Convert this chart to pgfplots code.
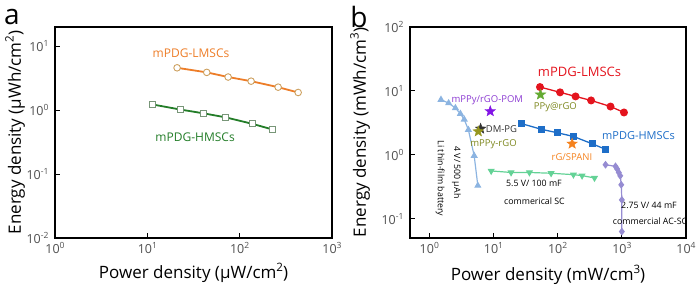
\documentclass[border=0pt]{standalone}
\usepackage{fontspec}
\setmainfont{Open Sans}
\usepackage{graphicx}
\usepackage{pgfplots}
\pgfplotsset{compat=1.18}
\usetikzlibrary{plotmarks}
\newcommand\tsup[1]{\raisebox{0.42em}{\scalebox{0.68}{#1}}}
\definecolor{orA}{RGB}{237,125,40}
\definecolor{orAe}{RGB}{205,160,95}
\definecolor{grA}{RGB}{35,125,40}
\definecolor{grAe}{RGB}{120,150,120}
\definecolor{redB}{RGB}{228,20,30}
\definecolor{bluB}{RGB}{30,110,200}
\definecolor{ltbl}{RGB}{140,180,225}
\definecolor{mint}{RGB}{100,210,150}
\definecolor{lav}{RGB}{150,140,210}
\definecolor{purS}{RGB}{130,20,230}
\definecolor{purT}{RGB}{140,60,210}
\definecolor{grS}{RGB}{100,170,50}
\definecolor{olT}{RGB}{125,135,30}
\definecolor{olS}{RGB}{150,150,30}
\definecolor{drk}{RGB}{50,50,50}
\definecolor{orS}{RGB}{245,130,30}
\definecolor{tickc}{RGB}{80,80,80}
\pgfdeclareplotmark{fstar}{%
  \pgfpathmoveto{\pgfpointpolar{90}{\pgfplotmarksize}}%
  \pgfpathlineto{\pgfpointpolar{126}{0.42\pgfplotmarksize}}%
  \pgfpathlineto{\pgfpointpolar{162}{\pgfplotmarksize}}%
  \pgfpathlineto{\pgfpointpolar{198}{0.42\pgfplotmarksize}}%
  \pgfpathlineto{\pgfpointpolar{234}{\pgfplotmarksize}}%
  \pgfpathlineto{\pgfpointpolar{270}{0.42\pgfplotmarksize}}%
  \pgfpathlineto{\pgfpointpolar{306}{\pgfplotmarksize}}%
  \pgfpathlineto{\pgfpointpolar{342}{0.42\pgfplotmarksize}}%
  \pgfpathlineto{\pgfpointpolar{18}{\pgfplotmarksize}}%
  \pgfpathlineto{\pgfpointpolar{54}{0.42\pgfplotmarksize}}%
  \pgfpathclose\pgfusepathqfillstroke}
\begin{document}
\begin{tikzpicture}[x=1pt,y=1pt]
\path[use as bounding box] (0,0) rectangle (700,286);
\node[font=\fontsize{28}{28}\selectfont, anchor=center] at (12,269) {a};
\node[font=\fontsize{28}{28}\selectfont, anchor=center] at (359,269) {b};
% ---------- panel a
\begin{loglogaxis}[scale only axis, log basis x=10, log basis y=10,
  axis line style={line width=1.4pt},
  tick style={line width=0.9pt, black},
  major tick length=5pt, minor tick length=3pt,
  tick align=inside, xtick pos=bottom, ytick pos=left,
  xticklabel={10\tsup{\pgfmathparse{int(round(\tick))}\pgfmathresult}},
  yticklabel={10\tsup{\pgfmathparse{int(round(\tick))}\pgfmathresult}},
  ticklabel style={font=\fontsize{12.5}{12.5}\selectfont, text=tickc},
  xticklabel style={yshift=-1pt},
  yticklabel style={xshift=-3pt},
  clip=false,
  at={(55pt,48pt)}, anchor=south west, width=277pt, height=211pt,
  xmin=1, xmax=1000, ymin=0.01, ymax=20,
  xtick={1,10,100,1000}, ytick={0.01,0.1,1,10},
  xlabel={Power density (μW/cm\tsup{2})},
  ylabel={Energy density (μWh/cm\tsup{2})},
  xlabel style={font=\fontsize{17}{17}\selectfont, at={(axis description cs:0.5,-0.166)}, anchor=center},
  ylabel style={font=\fontsize{17}{17}\selectfont, at={(axis description cs:-0.144,0.5)}, anchor=center},
]
\addplot[orA, line width=1.8pt, mark=*, mark size=3.3pt,
  mark options={fill=white, draw=orAe, line width=0.9pt}] coordinates {
 (21,4.6) (44,3.9) (75,3.3) (133,2.84) (261,2.29) (430,1.89)};
\addplot[grA, line width=1.8pt, mark=square*, mark size=3pt,
  mark options={fill=white, draw=grAe, line width=0.9pt}] coordinates {
 (11.3,1.23) (23,1.02) (41,0.89) (71,0.77) (138,0.61) (225,0.50)};
\node[text=orA, font=\fontsize{12}{12}\selectfont] at (axis cs:29.7,7.8) {mPDG-LMSCs};
\node[text=grA, font=\fontsize{12}{12}\selectfont] at (axis cs:32.9,0.38) {mPDG-HMSCs};
\end{loglogaxis}
% ---------- panel b
\begin{loglogaxis}[scale only axis, log basis x=10, log basis y=10,
  axis line style={line width=1.4pt},
  tick style={line width=0.9pt, black},
  major tick length=5pt, minor tick length=3pt,
  tick align=inside, xtick pos=bottom, ytick pos=left,
  xticklabel={10\tsup{\pgfmathparse{int(round(\tick))}\pgfmathresult}},
  yticklabel={10\tsup{\pgfmathparse{int(round(\tick))}\pgfmathresult}},
  ticklabel style={font=\fontsize{12.5}{12.5}\selectfont, text=tickc},
  xticklabel style={yshift=-1pt},
  yticklabel style={xshift=-3pt},
  clip=false,
  at={(410pt,48pt)}, anchor=south west, width=276pt, height=211pt,
  xmin=0.5, xmax=10000, ymin=0.05, ymax=100,
  xtick={1,10,100,1000,10000}, ytick={0.1,1,10,100},
  xlabel={Power density (mW/cm\tsup{3})},
  ylabel={Energy density (mWh/cm\tsup{3})},
  xlabel style={font=\fontsize{17}{17}\selectfont, at={(axis description cs:0.5,-0.175)}, anchor=center},
  ylabel style={font=\fontsize{17}{17}\selectfont, at={(axis description cs:-0.181,0.5)}, anchor=center},
]
\addplot[ltbl, line width=1.2pt, mark=triangle*, mark size=3pt, mark options={solid}] coordinates {
 (1.52,7.3) (2.0,6.45) (2.55,5.4) (3.05,4.4) (3.5,3.58) (4.06,2.47) (5.0,0.97) (5.7,0.33)};
\addplot[mint, line width=1.2pt, mark=triangle*, mark size=3pt, mark options={rotate=180, solid}] coordinates {
 (9.2,0.56) (18.8,0.53) (36.3,0.53) (79,0.515) (176,0.49) (240,0.473) (375,0.435)};
\addplot[lav, line width=1.2pt, mark=diamond*, mark size=3pt] coordinates {
 (557,0.70) (797,0.66) (846,0.60) (896,0.53) (945,0.47) (980,0.34) (1000,0.197) (1000,0.063)};
\addplot[redB, line width=1.3pt, mark=*, mark size=3.3pt] coordinates {
 (53,11.5) (109,9.5) (190,8.2) (332,7.1) (666,5.7) (1080,4.6)};
\addplot[bluB, line width=1.3pt, mark=square*, mark size=3pt] coordinates {
 (27.5,3.07) (56.5,2.5) (100,2.21) (176,1.94) (345,1.49) (557,1.22)};
\addplot[only marks, mark=fstar, mark size=5.5pt, purS, mark options={fill=purS, draw=purS}] coordinates {(8.9,4.8)};
\addplot[only marks, mark=fstar, mark size=5.5pt, grS, mark options={fill=grS, draw=grS}] coordinates {(54,8.75)};
\addplot[only marks, mark=fstar, mark size=5.5pt, drk, mark options={fill=drk, draw=drk}] coordinates {(6.3,2.56)};
\addplot[only marks, mark=fstar, mark size=5.5pt, olS, mark options={fill=olS, draw=olS}] coordinates {(5.8,2.32)};
\addplot[only marks, mark=fstar, mark size=5.5pt, orS, mark options={fill=orS, draw=orS}] coordinates {(168,1.49)};
\node[text=redB, font=\fontsize{13}{13}\selectfont] at (axis cs:219,19.6) {mPDG-LMSCs};
\node[text=bluB, font=\fontsize{11}{11}\selectfont] at (axis cs:1820,2.01) {mPDG-HMSCs};
\node[text=purT, font=\fontsize{9.5}{9.5}\selectfont] at (axis cs:8.0,7.1) {mPPy/rGO-POM};
\node[text=olT, font=\fontsize{9.5}{9.5}\selectfont] at (axis cs:92,5.5) {PPy@rGO};
\node[text=drk, font=\fontsize{9.5}{9.5}\selectfont] at (axis cs:13.3,2.5) {DM-PG};
\node[text=olT, font=\fontsize{9.5}{9.5}\selectfont] at (axis cs:10,1.45) {mPPy-rGO};
\node[text=orS, font=\fontsize{9.5}{9.5}\selectfont] at (axis cs:167,0.91) {rG/SPANI};
\node[text=black, font=\fontsize{8.8}{8.8}\selectfont] at (axis cs:42.7,0.354) {5.5 V/ 100 mF};
\node[text=black, font=\fontsize{8.8}{8.8}\selectfont] at (axis cs:43.5,0.185) {commerical SC};
\node[text=black, font=\fontsize{8.8}{8.8}\selectfont] at (axis cs:2650,0.16) {2.75 V/ 44 mF};
\node[text=black, font=\fontsize{8.8}{8.8}\selectfont] at (axis cs:2750,0.093) {commercial AC-SC};
\node[text=black, font=\fontsize{8.8}{8.8}\selectfont, rotate=-90] at (axis cs:2.64,0.53) {4 V/ 500 μAh};
\node[text=black, font=\fontsize{8.8}{8.8}\selectfont, rotate=-90] at (axis cs:1.48,0.425) {Li thin-film battery};
\end{loglogaxis}
\end{tikzpicture}
\end{document}
